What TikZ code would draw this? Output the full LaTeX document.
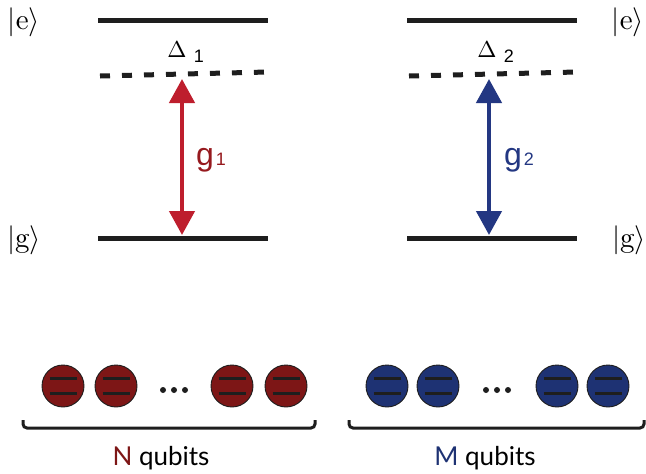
\documentclass[tikz,border=0pt]{standalone}
\usepackage{fontspec}
\newfontfamily\helv{Liberation Sans}
\newfontfamily\gill{Lato}
\usetikzlibrary{arrows.meta}
\definecolor{arrred}{RGB}{190,30,45}
\definecolor{txtred}{RGB}{150,25,30}
\definecolor{qred}{RGB}{125,22,22}
\definecolor{arrblue}{RGB}{35,55,130}
\definecolor{qblue}{RGB}{30,50,115}
\definecolor{dk}{RGB}{30,30,30}
\newcommand{\myket}[1]{\scalebox{2.9}{$|\mathrm{#1}\rangle$}}
\newcommand{\mydelta}{\scalebox{2.3}{$\Delta$}}
\tikzset{
  level/.style={line width=5pt, dk},
  virt/.style={line width=5pt, dk, dash pattern=on 10pt off 12pt},
  coupling/.style={line width=4.5pt, {Triangle[length=24pt,width=25pt]}-{Triangle[length=24pt,width=25pt]}},
  ket/.style={font=\normalsize, inner sep=0pt},
  qubit/.style={circle, minimum size=42pt, inner sep=0pt, draw=dk, line width=0.9pt},
  bar/.style={line width=3pt, dk},
  bracket/.style={line width=3pt, dk, rounded corners=4pt},
  lbl/.style={inner sep=0pt, font=\gill\fontsize{26}{28}\selectfont},
  dots/.style={fill=dk, circle, inner sep=0pt, minimum size=6pt},
  delta/.style={inner sep=0pt, font=\normalsize}
}
\begin{document}
\begin{tikzpicture}[x=1pt,y=-1pt]
\useasboundingbox (0,0) rectangle (646,474);
% kets
\node[ket] (e1) at (24,22) {\myket{e}};
\node[ket] (g1k) at (24,240) {\myket{g}};
\node[ket] (e2) at (628,22) {\myket{e}};
\node[ket] (g2k) at (629,240) {\myket{g}};
% left levels
\coordinate (le1) at (98,20); \coordinate (le2) at (268,20);
\coordinate (lv1) at (100,76); \coordinate (lv2) at (268,72);
\coordinate (lg1) at (98,238); \coordinate (lg2) at (268,238);
\draw[level] (le1) -- (le2);
\draw[virt] (lv1) -- (lv2);
\draw[level] (lg1) -- (lg2);
\coordinate (la1) at (182,79); \coordinate (la2) at (182,235);
\draw[coupling, arrred] (la1) -- (la2);
\node[delta] (d1) at (177,50) {\mydelta};
\node[inner sep=0pt, font=\helv\fontsize{18}{20}\selectfont] (d1s) at (199,56) {1};
\node[inner sep=0pt, font=\helv\fontsize{32}{34}\selectfont, txtred, anchor=base] (gg1) at (205,165) {g};
\node[inner sep=0pt, font=\helv\fontsize{18}{20}\selectfont, txtred, anchor=base] (gg1s) at (221,165) {1};
% right levels
\coordinate (re1) at (407,20); \coordinate (re2) at (577,20);
\coordinate (rv1) at (409,76); \coordinate (rv2) at (577,72);
\coordinate (rg1) at (407,238); \coordinate (rg2) at (577,238);
\draw[level] (re1) -- (re2);
\draw[virt] (rv1) -- (rv2);
\draw[level] (rg1) -- (rg2);
\coordinate (ra1) at (489,79); \coordinate (ra2) at (489,235);
\draw[coupling, arrblue] (ra1) -- (ra2);
\node[delta] (d2) at (487,50) {\mydelta};
\node[inner sep=0pt, font=\helv\fontsize{18}{20}\selectfont] (d2s) at (509,56) {2};
\node[inner sep=0pt, font=\helv\fontsize{32}{34}\selectfont, arrblue, anchor=base] (gg2) at (513,165) {g};
\node[inner sep=0pt, font=\helv\fontsize{18}{20}\selectfont, arrblue, anchor=base] (gg2s) at (529,165) {2};
% qubits left
\foreach \n/\x in {a/63,b/116,c/232,d/286}{
  \node[qubit, fill=qred] (qL\n) at (\x,386) {};
  \draw[bar] ([xshift=-13.5pt,yshift=7.5pt]qL\n.center) -- ([xshift=13.5pt,yshift=7.5pt]qL\n.center);
  \draw[bar] ([xshift=-13.5pt,yshift=-7.5pt]qL\n.center) -- ([xshift=13.5pt,yshift=-7.5pt]qL\n.center);
}
\node[dots] (dl1) at (163,390) {};
\node[dots] (dl2) at (174,390) {};
\node[dots] (dl3) at (185,390) {};
% qubits right
\foreach \n/\x in {a/387,b/438,c/557,d/608}{
  \node[qubit, fill=qblue] (qR\n) at (\x,386) {};
  \draw[bar] ([xshift=-13.5pt,yshift=7.5pt]qR\n.center) -- ([xshift=13.5pt,yshift=7.5pt]qR\n.center);
  \draw[bar] ([xshift=-13.5pt,yshift=-7.5pt]qR\n.center) -- ([xshift=13.5pt,yshift=-7.5pt]qR\n.center);
}
\node[dots] (dr1) at (486,390) {};
\node[dots] (dr2) at (497,390) {};
\node[dots] (dr3) at (508,390) {};
% brackets
\coordinate (bl1) at (23,420); \coordinate (bl2) at (315,420);
\draw[bracket] (bl1) -- (23,428) -- (315,428) -- (bl2);
\coordinate (br1) at (349,420); \coordinate (br2) at (644,420);
\draw[bracket] (br1) -- (349,428) -- (644,428) -- (br2);
\node[lbl] (nq) at (161,458) {\textcolor{qred}{N} qubits};
\node[lbl] (mq) at (485,458) {\textcolor{qblue}{M} qubits};
\end{tikzpicture}
\end{document}
